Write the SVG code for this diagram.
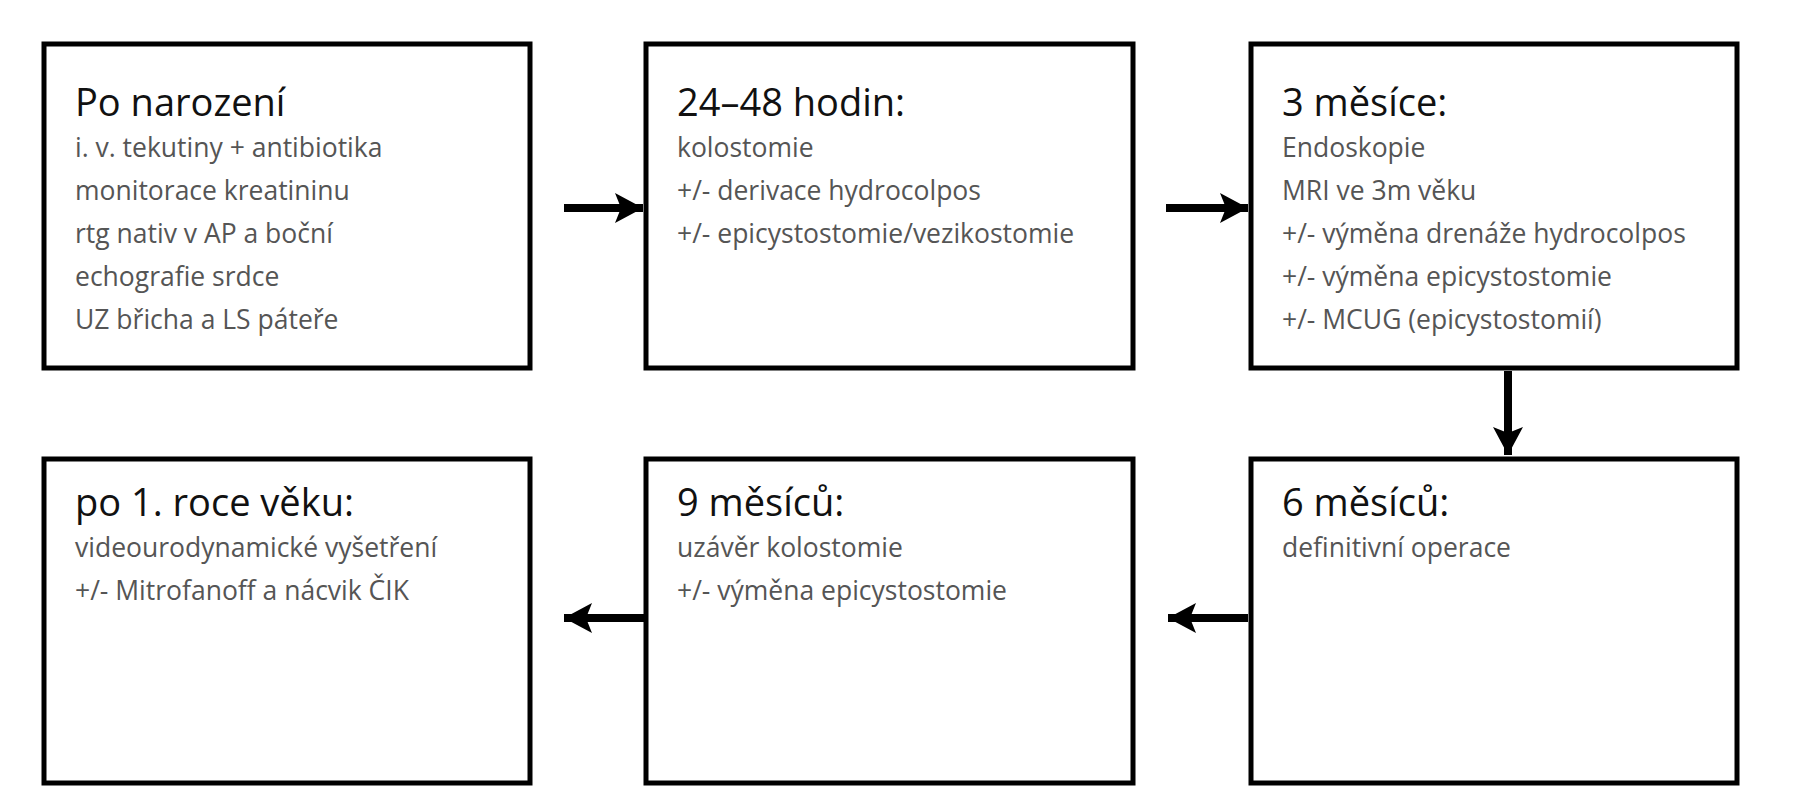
<svg xmlns="http://www.w3.org/2000/svg" width="1816" height="800" viewBox="0 0 1816 800">
<style>
.b{fill:#fff;stroke:#000;stroke-width:5}
.t{font-family:"Open Sans","Liberation Sans",sans-serif;font-size:38px;fill:#111}
.s{font-family:"Open Sans","Liberation Sans",sans-serif;font-size:26.5px;fill:#555}
.c{stroke:#000;stroke-width:8;fill:none;marker-end:url(#a)}
</style>
<defs><marker id="a" markerUnits="userSpaceOnUse" markerWidth="34" markerHeight="34" refX="28" refY="15" orient="auto"><path d="M0,0 L28,15 L0,30 L6,15 Z" fill="#000"/></marker></defs>
<rect width="1816" height="800" fill="#fff"/>
<g id="n1"><rect class="b" x="44" y="44" width="486" height="324"/>
<text class="t" x="75" y="116">Po  narození</text>
<text class="s" x="75" y="157">i. v. tekutiny + antibiotika</text>
<text class="s" x="75" y="200">monitorace kreatininu</text>
<text class="s" x="75" y="243">rtg nativ v AP a boční</text>
<text class="s" x="75" y="286">echografie srdce</text>
<text class="s" x="75" y="329">UZ břicha a LS páteře</text></g>
<g id="n2"><rect class="b" x="646" y="44" width="487" height="324"/>
<text class="t" x="677" y="116">24–48 hodin:</text>
<text class="s" x="677" y="157">kolostomie</text>
<text class="s" x="677" y="200">+/- derivace hydrocolpos</text>
<text class="s" x="677" y="243">+/- epicystostomie/vezikostomie</text></g>
<g id="n3"><rect class="b" x="1251" y="44" width="486" height="324"/>
<text class="t" x="1282" y="116">3 měsíce:</text>
<text class="s" x="1282" y="157">Endoskopie</text>
<text class="s" x="1282" y="200">MRI ve 3m věku</text>
<text class="s" x="1282" y="243">+/- výměna drenáže hydrocolpos</text>
<text class="s" x="1282" y="286">+/- výměna epicystostomie</text>
<text class="s" x="1282" y="329">+/- MCUG (epicystostomií)</text></g>
<g id="n4"><rect class="b" x="1251" y="459" width="486" height="324"/>
<text class="t" x="1282" y="516">6 měsíců:</text>
<text class="s" x="1282" y="557">definitivní operace</text></g>
<g id="n5"><rect class="b" x="646" y="459" width="487" height="324"/>
<text class="t" x="677" y="516">9 měsíců:</text>
<text class="s" x="677" y="557">uzávěr kolostomie</text>
<text class="s" x="677" y="600">+/- výměna epicystostomie</text></g>
<g id="n6"><rect class="b" x="44" y="459" width="486" height="324"/>
<text class="t" x="75" y="516">po 1. roce věku:</text>
<text class="s" x="75" y="557">videourodynamické vyšetření</text>
<text class="s" x="75" y="600">+/- Mitrofanoff a nácvik ČIK</text></g>
<g id="connectors">
<line class="c" x1="564" y1="208" x2="643" y2="208"/>
<line class="c" x1="1166" y1="208" x2="1248" y2="208"/>
<line class="c" x1="1508" y1="371" x2="1508" y2="455"/>
<line class="c" x1="1248" y1="618" x2="1168" y2="618"/>
<line class="c" x1="646" y1="618" x2="564" y2="618"/>
</g>
</svg>
